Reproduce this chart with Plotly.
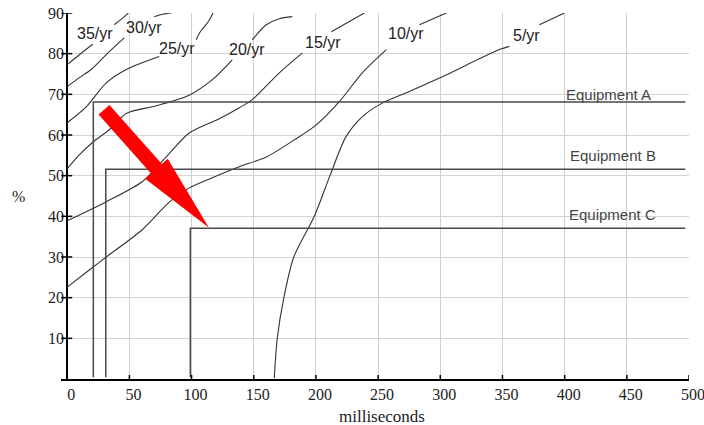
import math
import plotly.graph_objects as go

# ---------------- data ----------------
x_tick_vals = [0, 50, 100, 150, 200, 250, 300, 350, 400, 450, 500]
y_tick_vals = [10, 20, 30, 40, 50, 60, 70, 80, 90]

# iso-rate curves: part below the inline label, part above it
rate_names = ["35/yr", "30/yr", "25/yr", "20/yr", "15/yr", "10/yr", "5/yr"]

c35_lo_x = [0, 10, 20.5]
c35_lo_y = [77.3, 79.8, 82.3]
c35_hi_x = [37.8, 45.9, 49]
c35_hi_y = [87.1, 89.1, 90]

c30_lo_x = [0, 9.7, 19.3, 33.8, 45.9]
c30_lo_y = [71.9, 74.1, 76.1, 80.5, 83.9]
c30_hi_x = [70, 77, 83.7]
c30_hi_y = [89.1, 89.7, 90]

c25_lo_x = [0, 15.3, 31.4, 47.5, 74]
c25_lo_y = [63.0, 66.9, 72.8, 76.1, 79.3]
c25_hi_x = [103.7, 106.4, 112.8, 115.8, 117.3]
c25_hi_y = [83.4, 85.1, 87.6, 89.1, 90]

c20_lo_x = [0, 9.7, 20.1, 33.8, 47.5, 71.6, 98.1, 116.7, 132.7]
c20_lo_y = [51.7, 55.1, 58.1, 61.3, 65.3, 67.2, 69.8, 73.6, 78.5]
c20_hi_x = [148.8, 160.1, 170.6, 181.0]
c20_hi_y = [83.4, 87.1, 88.6, 89.1]

c15_lo_x = [0, 31.4, 60.3, 79.6, 98.1, 122.3, 138.4, 148.8, 170.6, 189.1]
c15_lo_y = [38.9, 43.6, 48.5, 54.6, 60.5, 64.0, 66.7, 68.7, 75.3, 80.2]
c15_hi_x = [212.4, 226.9, 238.9]
c15_hi_y = [85.4, 87.9, 90]

c10_lo_x = [0, 17.7, 31.4, 60.3, 82.1, 98.1, 116.7, 138.4, 160.1, 182.6, 200.3, 218.8, 237.3, 256.6]
c10_lo_y = [22.6, 26.8, 30.0, 36.7, 43.5, 47.0, 49.5, 52.2, 54.6, 58.8, 62.5, 68.2, 75.3, 81.0]
c10_hi_x = [283.2, 304.9]
c10_hi_y = [87.1, 90]

c5_lo_x = [166.5, 168.9, 174.2, 182.2, 198.7, 211.3, 224.2, 237.6, 253.7, 275.1, 299.3, 347.5, 355.6]
c5_lo_y = [0.2, 10, 20, 30, 40, 50, 59.6, 64.6, 67.9, 70.7, 74.0, 81.0, 81.8]
c5_hi_x = [379.7, 399.8]
c5_hi_y = [87.1, 90]

rate_label_x = [22.5, 61.5, 88.5, 144.3, 205.4, 272.3, 369.7]
rate_label_y = [84.9, 86.5, 81.2, 81.0, 82.8, 84.9, 84.5]

equip_names = ["Equipment A", "Equipment B", "Equipment C"]
equip_ms = [21, 31, 99]
equip_pct = [68.1, 51.6, 37.1]
equip_end_ms = 497
equip_label_x = [435, 438.5, 438.5]
equip_label_y = [69.9, 54.9, 40.5]

# ---------------- layout geometry ----------------
W, H = 704, 425
ML, MR, MT, MB = 61, 15, 13, 46
X_RANGE = [-5, 500]
Y_RANGE = [0, 90]
plot_w = W - ML - MR
plot_h = H - MT - MB
kx = plot_w / (X_RANGE[1] - X_RANGE[0])
ky = plot_h / (Y_RANGE[1] - Y_RANGE[0])

fig = go.Figure()

curves = [
    (c35_lo_x, c35_lo_y, c35_hi_x, c35_hi_y),
    (c30_lo_x, c30_lo_y, c30_hi_x, c30_hi_y),
    (c25_lo_x, c25_lo_y, c25_hi_x, c25_hi_y),
    (c20_lo_x, c20_lo_y, c20_hi_x, c20_hi_y),
    (c15_lo_x, c15_lo_y, c15_hi_x, c15_hi_y),
    (c10_lo_x, c10_lo_y, c10_hi_x, c10_hi_y),
    (c5_lo_x, c5_lo_y, c5_hi_x, c5_hi_y),
]
for name, (lx, ly, hx, hy) in zip(rate_names, curves):
    for sx, sy in ((lx, ly), (hx, hy)):
        fig.add_trace(go.Scatter(
            x=sx, y=sy, mode="lines", name=name, showlegend=False,
            line=dict(color="#333333", width=1.1, shape="spline", smoothing=0.8),
            hoverinfo="skip", cliponaxis=False,
        ))

# equipment step lines
for ms, pct in zip(equip_ms, equip_pct):
    fig.add_trace(go.Scatter(
        x=[ms, ms, equip_end_ms], y=[0.4, pct, pct], mode="lines",
        showlegend=False, hoverinfo="skip",
        line=dict(color="#4a4a4a", width=1.5),
    ))

annotations = []
for name, lx, ly in zip(rate_names, rate_label_x, rate_label_y):
    annotations.append(dict(
        x=lx, y=ly, xref="x", yref="y", text=name, showarrow=False,
        font=dict(family="Liberation Sans, Arial", size=16, color="#222222"),
        xanchor="center", yanchor="middle",
    ))
for name, lx, ly in zip(equip_names, equip_label_x, equip_label_y):
    annotations.append(dict(
        x=lx, y=ly, xref="x", yref="y", text=name, showarrow=False,
        font=dict(family="Liberation Sans, Arial", size=15, color="#444444"),
        xanchor="center", yanchor="middle",
    ))
annotations.append(dict(
    x=(18 - ML) / plot_w, xref="paper", y=44.8, yref="y", text="%",
    showarrow=False, font=dict(family="Liberation Serif, Times New Roman", size=16, color="#222222"),
    xanchor="center", yanchor="middle",
))
annotations.append(dict(
    x=253, xref="x", y=-38 / plot_h, yref="paper", text="milliseconds",
    showarrow=False, font=dict(family="Liberation Serif, Times New Roman", size=17, color="#222222"),
    xanchor="center", yanchor="middle",
))

shapes = []
# tick marks crossing the axes
for v in x_tick_vals:
    shapes.append(dict(type="line", xref="x", yref="y", x0=v, x1=v,
                       ysizemode="pixel", yanchor=0, y0=-4, y1=4,
                       line=dict(color="black", width=1.5)))
for v in y_tick_vals:
    shapes.append(dict(type="line", xref="x", yref="y", y0=v, y1=v,
                       xsizemode="pixel", xanchor=0, x0=-6, x1=5,
                       line=dict(color="black", width=1.5)))

# red arrow (tail -> tip), widths in pixels
arrow_tail = (29.6, 66.2)
arrow_tip = (114.0, 37.2)
shaft_w, head_w, head_len = 14.5, 30, 79
tx, ty = arrow_tail[0] * kx, arrow_tail[1] * ky
px_, py_ = arrow_tip[0] * kx, arrow_tip[1] * ky
L = math.hypot(px_ - tx, py_ - ty)
ux, uy = (px_ - tx) / L, (py_ - ty) / L
nx, ny = -uy, ux
nkx, nky = px_ - ux * head_len, py_ - uy * head_len
pts = [
    (tx + nx * shaft_w / 2, ty + ny * shaft_w / 2),
    (nkx + nx * shaft_w / 2, nky + ny * shaft_w / 2),
    (nkx + nx * head_w / 2, nky + ny * head_w / 2),
    (px_, py_),
    (nkx - nx * head_w / 2, nky - ny * head_w / 2),
    (nkx - nx * shaft_w / 2, nky - ny * shaft_w / 2),
    (tx - nx * shaft_w / 2, ty - ny * shaft_w / 2),
]
path = "M " + " L ".join(f"{a / kx:.3f},{b / ky:.3f}" for a, b in pts) + " Z"
shapes.append(dict(type="path", path=path, xref="x", yref="y",
                   fillcolor="#ff0000", line=dict(width=0), layer="above"))

fig.update_layout(
    width=W, height=H, autosize=False,
    margin=dict(l=ML, r=MR, t=MT, b=MB, pad=0, autoexpand=False),
    paper_bgcolor="white", plot_bgcolor="white",
    showlegend=False,
    annotations=annotations, shapes=shapes,
    xaxis=dict(
        range=X_RANGE, tickvals=x_tick_vals, ticks="",
        showgrid=True, gridcolor="#cfcfcf", gridwidth=1,
        zeroline=True, zerolinecolor="black", zerolinewidth=2,
        showline=True, linecolor="black", linewidth=1.5,
        tickfont=dict(family="Liberation Serif, Times New Roman", size=16, color="#222222"),
        ticklabelshift=4, ticklabelstandoff=0, fixedrange=True,
        automargin=False, ticklabeloverflow="allow",
    ),
    yaxis=dict(
        range=Y_RANGE, tickvals=y_tick_vals, ticks="",
        showgrid=True, gridcolor="#d4d4d4", gridwidth=1,
        zeroline=False, showline=False,
        tickfont=dict(family="Liberation Serif, Times New Roman", size=16, color="#222222"),
        ticklabelstandoff=-4, fixedrange=True, automargin=False,
    ),
)

fig.write_html(
    "out.html",
    config={"displayModeBar": False},
    post_script="document.body.style.margin='0px';document.body.style.overflow='hidden';",
)
